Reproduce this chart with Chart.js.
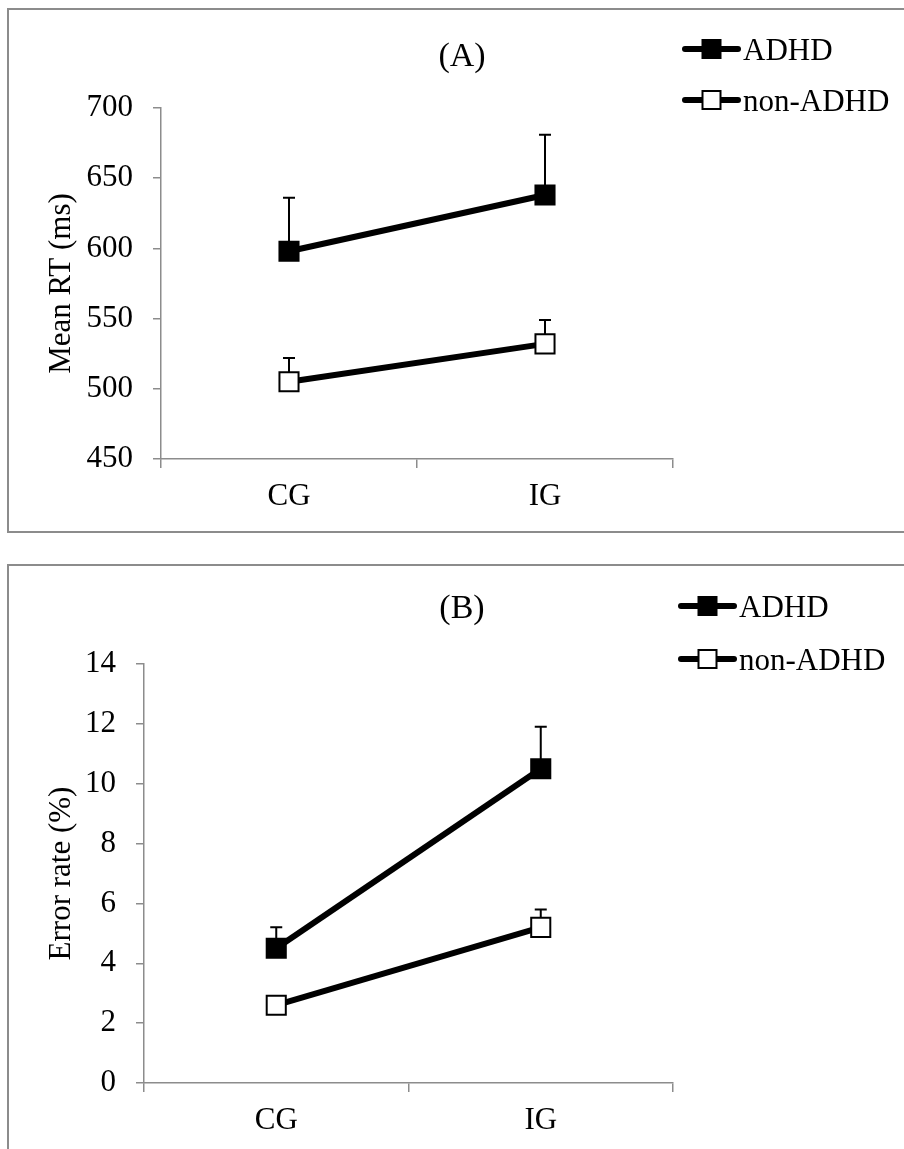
<!DOCTYPE html>
<html><head><meta charset="utf-8">
<script src="https://cdn.jsdelivr.net/npm/chart.js@4"></script>
<style>
html,body{margin:0;padding:0;background:#fff;width:904px;height:1149px;overflow:hidden;position:relative}
.box{position:absolute;border:2px solid #8c8c8c;border-right:none;box-sizing:border-box}
#boxA{left:7px;top:8px;width:920px;height:525px}
#boxB{left:7px;top:564px;width:920px;height:620px}
canvas{position:absolute;left:0}
</style></head><body>
<div class="box" id="boxA"></div><div class="box" id="boxB"></div>
<canvas id="cA" width="904" height="545" style="top:0;width:904px;height:545px"></canvas>
<canvas id="cB" width="904" height="601" style="top:548px;width:904px;height:601px"></canvas>
<script>
// ---- data ----
const categories = ['CG', 'IG'];
const seriesNames = ['ADHD', 'non-ADHD'];
const panelTitles = ['(A)', '(B)'];
const axisTitles = ['Mean RT (ms)', 'Error rate (%)'];
// Panel A: mean reaction time (ms) and upper error (SE)
const rtADHD = [598, 638];
const rtADHDErr = [38, 43];
const rtNonADHD = [505, 532];
const rtNonADHDErr = [17, 17];
const rtTicks = [450, 500, 550, 600, 650, 700];
// Panel B: error rate (%) and upper error (SE)
const erADHD = [4.5, 10.5];
const erADHDErr = [0.7, 1.4];
const erNonADHD = [2.6, 5.2];
const erNonADHDErr = [0.25, 0.6];
const erTicks = [0, 2, 4, 6, 8, 10, 12, 14];

const FONT = "'Liberation Serif', 'Times New Roman', serif";
const GRAY = '#8c8c8c';
const FS = 31;

// error bars (upper only), drawn under the markers
const errorBars = {
  id: 'errorBars',
  beforeDatasetsDraw(chart) {
    const ctx = chart.ctx, ys = chart.scales.y;
    chart.data.datasets.forEach((ds, i) => {
      const meta = chart.getDatasetMeta(i);
      meta.data.forEach((pt, j) => {
        const top = ys.getPixelForValue(ds.data[j] + ds.errUp[j]);
        ctx.save();
        ctx.strokeStyle = '#000';
        ctx.lineWidth = 2;
        ctx.beginPath();
        ctx.moveTo(pt.x, pt.y);
        ctx.lineTo(pt.x, top);
        ctx.moveTo(pt.x - 6, top);
        ctx.lineTo(pt.x + 6, top);
        ctx.stroke();
        ctx.restore();
      });
    });
  }
};

// panel title and legend (line + marker + text)
const panelDeco = {
  id: 'panelDeco',
  afterDraw(chart, args, opts) {
    const ctx = chart.ctx;
    ctx.save();
    ctx.fillStyle = '#000';
    ctx.font = '34px ' + FONT;
    ctx.textAlign = 'center';
    ctx.textBaseline = 'alphabetic';
    ctx.fillText(opts.title, opts.titleX, opts.titleY);
    ctx.font = FS + 'px ' + FONT;
    chart.data.datasets.forEach((ds, i) => {
      const ly = opts.legendY[i];
      ctx.strokeStyle = '#000';
      ctx.lineWidth = 6;
      ctx.lineCap = 'round';
      ctx.beginPath();
      ctx.moveTo(opts.legendX0, ly);
      ctx.lineTo(opts.legendX1, ly);
      ctx.stroke();
      const cx = (opts.legendX0 + opts.legendX1) / 2;
      ctx.lineCap = 'butt';
      ctx.fillStyle = ds.pointBackgroundColor;
      ctx.fillRect(cx - 9, ly - 9, 18, 18);
      ctx.lineWidth = 2;
      ctx.strokeRect(cx - 9, ly - 9, 18, 18);
      ctx.fillStyle = '#000';
      ctx.textAlign = 'left';
      ctx.fillText(ds.label, opts.textX, ly + 11);
    });
    ctx.restore();
  }
};

function ds(label, data, err, fill) {
  return {
    label, data, errUp: err,
    borderColor: '#000', backgroundColor: fill, borderWidth: 6,
    borderJoinStyle: 'round', tension: 0,
    pointStyle: 'rect', pointRadius: 13.5, pointHoverRadius: 13.5,
    pointBorderWidth: 2, pointBackgroundColor: fill, pointBorderColor: '#000'
  };
}

function makeChart(id, cfg) {
  return new Chart(document.getElementById(id), {
    type: 'line',
    data: {
      labels: categories,
      datasets: [ds(seriesNames[0], cfg.d1, cfg.e1, '#000'), ds(seriesNames[1], cfg.d2, cfg.e2, '#fff')]
    },
    options: {
      responsive: false, animation: false, devicePixelRatio: 1,
      layout: { padding: { top: cfg.padTop, right: 231, bottom: cfg.padBottom, left: 0 } },
      plugins: {
        legend: { display: false }, tooltip: { enabled: false },
        panelDeco: cfg.deco
      },
      scales: {
        x: {
          offset: true,
          grid: { offset: true, drawOnChartArea: false, drawTicks: true, tickLength: 9, color: GRAY, lineWidth: 1.5 },
          border: { color: GRAY, width: 1.5 },
          ticks: { font: { family: FONT, size: FS }, color: '#000', padding: 10, maxRotation: 0 },
          afterFit: s => { s.height = 60; }
        },
        y: {
          min: cfg.ticks[0], max: cfg.ticks[cfg.ticks.length - 1],
          afterBuildTicks: s => { s.ticks = cfg.ticks.map(v => ({ value: v })); },
          grid: { drawOnChartArea: false, drawTicks: true, tickLength: 8, color: GRAY, lineWidth: 1.5 },
          border: { color: GRAY, width: 1.5 },
          ticks: { font: { family: FONT, size: FS }, color: '#000', padding: 20 },
          title: { display: true, text: cfg.yTitle, color: '#000', font: { family: FONT, size: FS }, padding: { top: 43, bottom: 0 } },
          afterFit: s => { s.width = cfg.yWidth; }
        }
      }
    },
    plugins: [errorBars, panelDeco]
  });
}

makeChart('cA', {
  d1: rtADHD, e1: rtADHDErr, d2: rtNonADHD, e2: rtNonADHDErr, ticks: rtTicks,
  yTitle: axisTitles[0], yWidth: 161, padTop: 108, padBottom: 545 - 459 - 60,
  deco: { title: panelTitles[0], titleX: 462, titleY: 66, legendX0: 685, legendX1: 738, textX: 743, legendY: [49, 100] }
});
makeChart('cB', {
  d1: erADHD, e1: erADHDErr, d2: erNonADHD, e2: erNonADHDErr, ticks: erTicks,
  yTitle: axisTitles[1], yWidth: 144, padTop: 664 - 548, padBottom: 601 - 535 - 60,
  deco: { title: panelTitles[1], titleX: 462, titleY: 70, legendX0: 681, legendX1: 734, textX: 739, legendY: [58, 111] }
});
</script>
</body></html>
